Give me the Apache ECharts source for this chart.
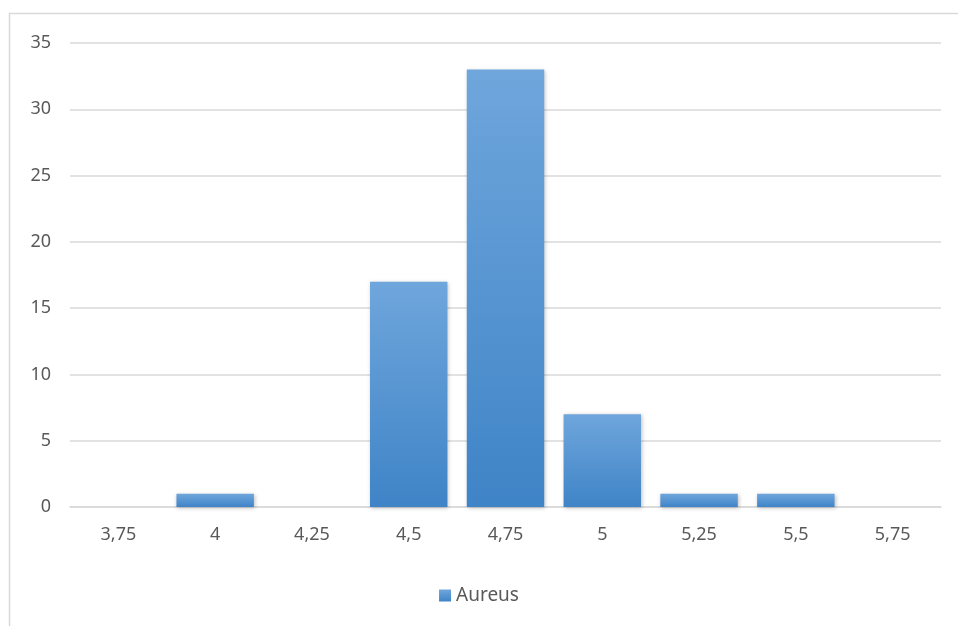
<!DOCTYPE html>
<html><head><meta charset="utf-8">
<script src="https://cdn.jsdelivr.net/npm/echarts@6/dist/echarts.min.js"></script>
<style>html,body{margin:0;padding:0;background:#fff}#c{width:958px;height:626px}</style>
</head><body><div id="c"></div>
<script>
const categories = ['3,75','4','4,25','4,5','4,75','5','5,25','5,5','5,75'];
const aureus = [0,1,0,17,33,7,1,1,0];
const yTicks = {min:0, max:35, interval:5};
const chart = echarts.init(document.getElementById('c'));
chart.setOption({
  animation:false,
  graphic:[{type:'rect',shape:{x:9.5,y:13.5,width:960,height:620},style:{fill:'none',stroke:'#d9d9d9',lineWidth:1.5},z:-1}],
  grid:{left:70,right:17,top:43,bottom:119},
  legend:{bottom:16,left:'center',itemWidth:12,itemHeight:12,icon:'rect',itemGap:8,
    textStyle:{fontFamily:'Noto Sans',fontSize:19,color:'#595959'},data:['Aureus']},
  xAxis:{type:'category',data:categories,
    axisLine:{lineStyle:{color:'#d9d9d9',width:1.5}},axisTick:{show:false},
    axisLabel:{fontFamily:'Noto Sans',fontSize:18,color:'#595959',margin:19}},
  yAxis:{type:'value',min:yTicks.min,max:yTicks.max,interval:yTicks.interval,
    axisLine:{show:false},axisTick:{show:false},
    splitLine:{lineStyle:{color:'#d9d9d9',width:1.5}},
    axisLabel:{fontFamily:'Noto Sans',fontSize:18,color:'#595959',margin:19}},
  series:[{name:'Aureus',type:'bar',data:aureus,barCategoryGap:'20%',
    itemStyle:{color:new echarts.graphic.LinearGradient(0,0,0,1,[{offset:0,color:'#6fa6dc'},{offset:1,color:'#3f84c7'}]),
      shadowColor:'rgba(0,0,0,0.25)',shadowBlur:4,shadowOffsetX:1,shadowOffsetY:1}}]
});
</script></body></html>
